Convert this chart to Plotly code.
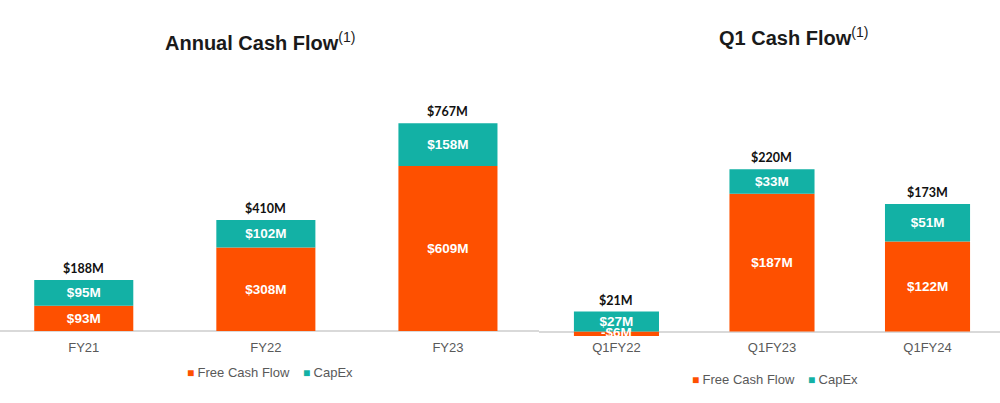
import plotly.graph_objects as go

# ---- data ----
annual_cats = ["FY21", "FY22", "FY23"]
annual_fcf = [93, 308, 609]
annual_capex = [95, 102, 158]
annual_total = [188, 410, 767]

q1_cats = ["Q1FY22", "Q1FY23", "Q1FY24"]
q1_fcf = [-6, 187, 122]
q1_capex = [27, 33, 51]
q1_total = [21, 220, 173]

series_names = ["Free Cash Flow", "CapEx"]

ORANGE = "#FE5000"
TEAL = "#13B1A5"
GRAY = "#595959"


def money(v):
    return f"-${abs(v)}M" if v < 0 else f"${v}M"


fig = go.Figure()
annotations = []

bar_font = dict(family="Liberation Sans, Arial", size=13.5, color="white")


def add_group(cats, fcf, capex, total, xa, ya, width):
    fig.add_trace(go.Bar(
        x=cats, y=fcf, name=series_names[0], marker=dict(color=ORANGE, line=dict(width=0)),
        text=[f"<b>{money(v)}</b>" if v >= 0 else "" for v in fcf], textposition="inside",
        insidetextanchor="middle", textangle=0, constraintext="none",
        textfont=bar_font, width=width, xaxis=xa, yaxis=ya, showlegend=False,
        cliponaxis=False, hoverinfo="skip"))
    fig.add_trace(go.Bar(
        x=cats, y=capex, name=series_names[1], marker=dict(color=TEAL, line=dict(width=0)),
        text=[f"<b>{money(v)}</b>" for v in capex], textposition="inside",
        insidetextanchor="middle", textangle=0, constraintext="none",
        textfont=bar_font, width=width, xaxis=xa, yaxis=ya, showlegend=False,
        cliponaxis=False, hoverinfo="skip"))
    # labels for negative segments (too thin for inside text), drawn on top
    neg = [(c, v) for c, v in zip(cats, fcf) if v < 0]
    if neg:
        fig.add_trace(go.Scatter(
            x=[c for c, _ in neg], y=[v / 2 for _, v in neg], mode="text",
            text=[f"<b>{money(v)}</b>" for _, v in neg], textposition="middle center",
            textfont=bar_font, showlegend=False, xaxis=xa, yaxis=ya,
            cliponaxis=False, hoverinfo="skip"))
    tops = [max(a, 0) + max(b, 0) for a, b in zip(fcf, capex)]
    for c, t, tot in zip(cats, tops, total):
        annotations.append(dict(
            x=c, y=t, xref=xa, yref=ya, text=f"<b>{money(tot)}</b>", showarrow=False,
            xanchor="center", yanchor="bottom", yshift=2,
            font=dict(family="Lato, Liberation Sans", size=12.5, color="#111111")))


add_group(annual_cats, annual_fcf, annual_capex, annual_total, "x", "y", 0.544)
add_group(q1_cats, q1_fcf, q1_capex, q1_total, "x2", "y2", 0.547)


def add_legend(x_items, y_px):
    for name, color, xp in zip(series_names, [ORANGE, TEAL], x_items):
        annotations.append(dict(
            x=xp / 1000, y=(403 - y_px) / 403, xref="paper", yref="paper",
            xanchor="left", yanchor="middle", showarrow=False,
            text=f"<span style='color:{color};font-size:12px'>■ </span>{name}",
            font=dict(family="Liberation Sans, Arial", size=13, color=GRAY)))


add_legend([185, 301], 372)
add_legend([690, 806], 379)

ydom = [(403 - 338) / 403, 1]
axis_common = dict(showgrid=False, showline=False, ticks="", fixedrange=True,
                   tickfont=dict(family="Liberation Sans, Arial", size=13, color=GRAY))

annotations += [
    dict(text="<b>Annual Cash Flow</b><sup>(1)</sup>", x=0.260, y=(403 - 42) / 403,
         xref="paper", yref="paper", xanchor="center", yanchor="middle", showarrow=False,
         font=dict(family="Liberation Sans, Arial", size=20, color="#1a1a1a")),
    dict(text="<b>Q1 Cash Flow</b><sup>(1)</sup>", x=0.793, y=(403 - 37) / 403,
         xref="paper", yref="paper", xanchor="center", yanchor="middle", showarrow=False,
         font=dict(family="Liberation Sans, Arial", size=20, color="#1a1a1a")),
]

fig.update_layout(
    width=1000, height=403,
    margin=dict(l=0, r=0, t=0, b=0),
    paper_bgcolor="white", plot_bgcolor="white",
    barmode="relative", showlegend=False,
    xaxis=dict(domain=[0, 0.539], range=[-0.46, 2.5], anchor="y", **axis_common),
    yaxis=dict(domain=ydom, range=[-25.85, 1222.3], anchor="x", showticklabels=False,
               zeroline=True, zerolinecolor="#D9D9D9", zerolinewidth=1.5, **axis_common),
    xaxis2=dict(domain=[0.539, 1], range=[-0.498, 2.466], anchor="y2", **axis_common),
    yaxis2=dict(domain=ydom, range=[-8.82, 449.8], anchor="x2", showticklabels=False,
                zeroline=True, zerolinecolor="#D9D9D9", zerolinewidth=1.5, **axis_common),
    annotations=annotations,
)

fig.write_html("out.html", config={"displayModeBar": False},
               post_script="document.body.style.margin='0px';")
